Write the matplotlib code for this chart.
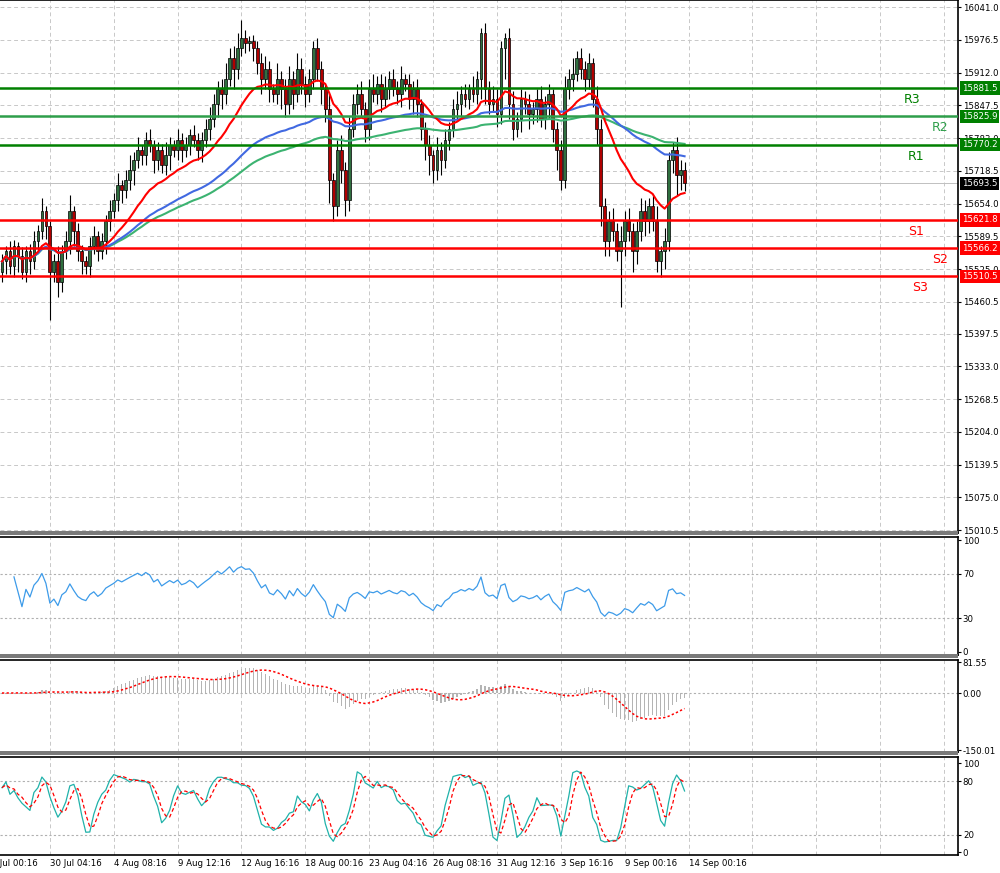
import numpy as np
import pandas as pd
import matplotlib
matplotlib.use("Agg")
import matplotlib.pyplot as plt
from matplotlib.patches import Rectangle

# ---- data (4h bars) ----
closes = [
    15540, 15560, 15530, 15570, 15550, 15520, 15560, 15540, 15580, 15600, 15640, 15610,
    15520, 15540, 15500, 15560, 15580, 15640, 15600, 15560, 15540, 15530, 15570, 15590,
    15560, 15580, 15620, 15640, 15660, 15690, 15680, 15700, 15720, 15740, 15760, 15750,
    15780, 15770, 15740, 15760, 15730, 15750, 15770, 15760, 15780, 15760, 15770, 15790, 15780, 15760, 15780, 15800,
    15820, 15850, 15880, 15870, 15900, 15940, 15920, 15960, 15980, 15970, 15975, 15960, 15930,
    15900, 15920, 15880, 15870, 15900, 15880, 15850, 15900, 15870, 15920, 15890, 15870, 15900, 15960, 15920, 15880,
    15840, 15700, 15650, 15760, 15720, 15660, 15800, 15850,
    15870, 15840, 15800, 15880, 15870, 15890, 15860, 15880, 15900, 15880, 15870, 15900, 15890, 15860, 15880, 15850, 15800,
    15770, 15750, 15720, 15760, 15740, 15780, 15800, 15840, 15850, 15870, 15860, 15880, 15870, 15900,
    15990, 15880, 15850, 15860, 15830, 15960, 15980, 15850, 15800, 15820, 15860, 15850, 15830,
    15840, 15860, 15820, 15850, 15870, 15800, 15760, 15700, 15880, 15900, 15910, 15940, 15920,
    15900, 15930, 15860, 15800, 15650, 15580,
    15620, 15600, 15560, 15580, 15620, 15600, 15560, 15600, 15640, 15620, 15650, 15620, 15540, 15560, 15580, 15740, 15760, 15710, 15720, 15693.5,
]
wick_up = [
    15, 10, 20, 12, 8, 18, 10, 14, 20, 12, 25, 10,
    10, 15, 30, 12, 20, 30, 10, 15, 12, 10, 18, 20,
    10, 15, 12, 20, 15, 25, 10, 20, 30, 15, 25, 10,
    15, 20, 10, 15, 12, 25, 15, 10, 20, 12, 15, 10, 18, 12, 15, 20,
    25, 20, 15, 20, 30, 20, 25, 30, 35, 15, 10, 12, 15,
    20, 25, 15, 10, 30, 15, 20, 25, 15, 30, 20, 15, 20, 15, 20, 15,
    10, 30, 15, 20, 30, 15, 25, 20,
    20, 25, 15, 20, 30, 15, 20, 25, 15, 20, 15, 25, 10, 20, 15, 20, 10,
    15, 20, 10, 25, 15, 20, 15, 20, 25, 15, 20, 10, 25, 15,
    10, 20, 15, 25, 20, 15, 10, 20, 25, 15, 20, 15, 20,
    15, 20, 25, 15, 20, 10, 15, 20, 25, 20, 30, 15, 20,
    15, 20, 10, 25, 20, 15,
    20, 25, 15, 30, 20, 25, 15, 20, 25, 20, 15, 20, 30, 10, 25, 15, 15, 25, 20, 15,
]
wick_dn = [
    20, 25, 15, 20, 30, 15, 20, 25, 15, 20, 15, 25,
    95, 20, 30, 20, 15, 25, 30, 20, 25, 15, 20, 15,
    20, 15, 25, 20, 15, 20, 25, 15, 20, 30, 15, 20,
    20, 15, 25, 20, 15, 20, 30, 15, 20, 25, 15, 20, 15, 20, 25, 15,
    20, 15, 25, 30, 20, 15, 40, 20, 15, 20, 15, 25, 20,
    30, 20, 25, 15, 20, 40, 25, 20, 30, 15, 20, 25, 15, 20, 25, 30,
    25, 45, 30, 20, 25, 30, 20, 15,
    20, 15, 25, 20, 15, 20, 25, 15, 20, 15, 20, 25, 15, 20, 30, 25, 20,
    30, 40, 25, 20, 30, 15, 20, 15, 20, 25, 15, 20, 15, 20,
    40, 30, 20, 15, 25, 20, 60, 30, 20, 15, 25, 20, 30,
    20, 25, 15, 20, 30, 25, 40, 20, 15, 20, 25, 15, 20,
    25, 20, 15, 30, 40, 30,
    30, 20, 20, 110, 30, 20, 40, 25, 20, 30, 25, 20, 20, 30, 35, 20, 25, 40, 30, 15,
]
first_open = 15520

date_labels = ["26 Jul 00:16", "30 Jul 04:16", "4 Aug 08:16", "9 Aug 12:16", "12 Aug 16:16",
               "18 Aug 00:16", "23 Aug 04:16", "26 Aug 08:16", "31 Aug 12:16", "3 Sep 16:16",
               "9 Sep 00:16", "14 Sep 00:16"]
date_bars = [-4, 12, 28, 44, 60, 76, 92, 108, 124, 140, 156, 172]

price_ticks = [16041.0, 15976.5, 15912.0, 15847.5, 15783.0, 15718.5, 15654.0, 15589.5,
               15525.0, 15460.5, 15397.5, 15333.0, 15268.5, 15204.0, 15139.5, 15075.0, 15010.5]
levels = {"R3": 15881.5, "R2": 15825.9, "R1": 15770.2, "S1": 15621.8, "S2": 15566.2, "S3": 15510.5}
last_price = 15693.5

FS = 6.2

# ---- derived series ----
c = pd.Series(closes, dtype=float)
o = c.shift(1).fillna(first_open)
hi = np.maximum(o, c) + np.array(wick_up)
lo = np.minimum(o, c) - np.array(wick_dn)
n = len(c)
x = np.arange(n)

ma_fast = c.ewm(span=20).mean()
ma_mid = c.ewm(span=70).mean()
ma_slow = c.ewm(span=150).mean()

delta = c.diff().fillna(0)
up = delta.clip(lower=0).ewm(alpha=1 / 14).mean()
dn = (-delta.clip(upper=0)).ewm(alpha=1 / 14).mean()
rsi = 100 - 100 / (1 + up / dn.replace(0, 1e-9))
rsi.iloc[:3] = np.nan

macd = c.ewm(span=12).mean() - c.ewm(span=26).mean()
macd_sig = macd.rolling(9, min_periods=1).mean()

hh = pd.Series(hi).rolling(5, min_periods=1).max()
ll = pd.Series(lo).rolling(5, min_periods=1).min()
k = (100 * (c - ll) / (hh - ll)).rolling(3, min_periods=1).mean()
d = k.rolling(3, min_periods=1).mean()

# ---- figure ----
fig = plt.figure(figsize=(10, 8.73), dpi=100)
fig.patch.set_facecolor("white")
L, W = 0.0, 0.958
ax = fig.add_axes([L, 0.3895, W, 0.6105])
ax_rsi = fig.add_axes([L, 0.2497, W, 0.135])
ax_macd = fig.add_axes([L, 0.1386, W, 0.105])
ax_st = fig.add_axes([L, 0.0206, W, 0.112])
xlim = (-0.5, 239.5)
grid_bars = date_bars + [188, 204, 220, 236]

for a in (ax, ax_rsi, ax_macd, ax_st):
    a.set_xlim(*xlim)
    a.yaxis.tick_right()
    a.tick_params(axis="y", labelsize=FS, length=2, pad=1.5)
    a.tick_params(axis="x", length=0)
    a.set_xticks([])
    for xb in grid_bars:
        a.axvline(xb, color="#c8c8c8", ls=(0, (4, 3)), lw=0.7, zorder=0)
    for s in a.spines.values():
        s.set_color("black")
        s.set_linewidth(1.2)
    a.spines["left"].set_visible(False)

# price panel
ax.set_ylim(15005, 16055)
ax.set_yticks(price_ticks)
ax.set_yticklabels([f"{t:.1f}" for t in price_ticks])
for t in price_ticks:
    ax.axhline(t, color="#c8c8c8", ls=(0, (4, 3)), lw=0.7, zorder=0)

for i in x:
    bull = c[i] >= o[i]
    ax.vlines(i, lo[i], hi[i], color="black", lw=0.8, zorder=2)
    body_lo = min(o[i], c[i])
    h = max(abs(c[i] - o[i]), 2)
    ax.add_patch(Rectangle((i - 0.35, body_lo), 0.7, h,
                           facecolor="#2f6f3f" if bull else "#b00000",
                           edgecolor="black", lw=0.5, zorder=3))

ax.plot(x, ma_slow, color="#3cb371", lw=1.5, zorder=4)
ax.plot(x, ma_mid, color="#4169e1", lw=1.5, zorder=4)
ax.plot(x, ma_fast, color="#ff0000", lw=1.5, zorder=4)

tr = ax.get_yaxis_transform()
label_x = {"R3": 228, "R2": 235, "R1": 229, "S1": 229, "S2": 235, "S3": 230}
for name, val in levels.items():
    green = name.startswith("R")
    col = "#008000" if green else "#ff0000"
    if name == "R2":
        col = "#2e9e4a"
    ax.axhline(val, color=col, lw=1.8, zorder=5)
    ax.text(label_x[name], val - 10, name, color=col, fontsize=9,
            ha="center", va="top", zorder=6)
    ax.text(1.004, val, f"{val:.1f}", transform=tr, fontsize=FS, color="white",
            va="center", ha="left", clip_on=False, zorder=7,
            bbox=dict(boxstyle="square,pad=0.25", fc="#008000" if green else "#ff0000", ec="none"))
ax.axhline(last_price, color="#c0c0c0", lw=0.7, zorder=1)
ax.text(1.004, last_price, f"{last_price:.1f}", transform=tr, fontsize=FS, color="white",
        va="center", ha="left", clip_on=False, zorder=7,
        bbox=dict(boxstyle="square,pad=0.25", fc="black", ec="none"))

# RSI
ax_rsi.set_ylim(-3, 103)
ax_rsi.set_yticks([0, 30, 70, 100])
for t in (30, 70):
    ax_rsi.axhline(t, color="#b0b0b0", ls=(0, (2, 2)), lw=0.8, zorder=0)
ax_rsi.plot(x, rsi, color="#3d9be9", lw=0.9)

# MACD
ax_macd.set_ylim(-155, 86)
ax_macd.set_yticks([81.55, 0.0, -150.01])
ax_macd.set_yticklabels(["81.55", "0.00", "-150.01"])
ax_macd.axhline(0, color="#b0b0b0", ls=(0, (2, 2)), lw=0.8, zorder=0)
ax_macd.bar(x, macd, width=0.3, color="#b4b4b4", zorder=2)
ax_macd.plot(x, macd_sig, color="#ff0000", ls=(0, (1.5, 1.5)), lw=1.1, zorder=3)

# Stochastic
ax_st.set_ylim(-3, 107)
ax_st.set_yticks([0, 20, 80, 100])
for t in (20, 80):
    ax_st.axhline(t, color="#b0b0b0", ls=(0, (2, 2)), lw=0.8, zorder=0)
ax_st.plot(x, k, color="#20b2aa", lw=0.9)
ax_st.plot(x, d, color="#ff0000", ls=(0, (3, 2)), lw=0.9)

for lbl, b in zip(date_labels, date_bars):
    ax_st.text(b, -0.04, lbl, transform=ax_st.get_xaxis_transform(), fontsize=FS,
               ha="left", va="top", clip_on=False)

# thick gray separators
for yy in (0.3875, 0.2465, 0.1355):
    fig.add_artist(Rectangle((0, yy), W, 0.004, transform=fig.transFigure,
                             facecolor="#7a7a7a", edgecolor="none"))

fig.savefig("out.png", dpi=100)
